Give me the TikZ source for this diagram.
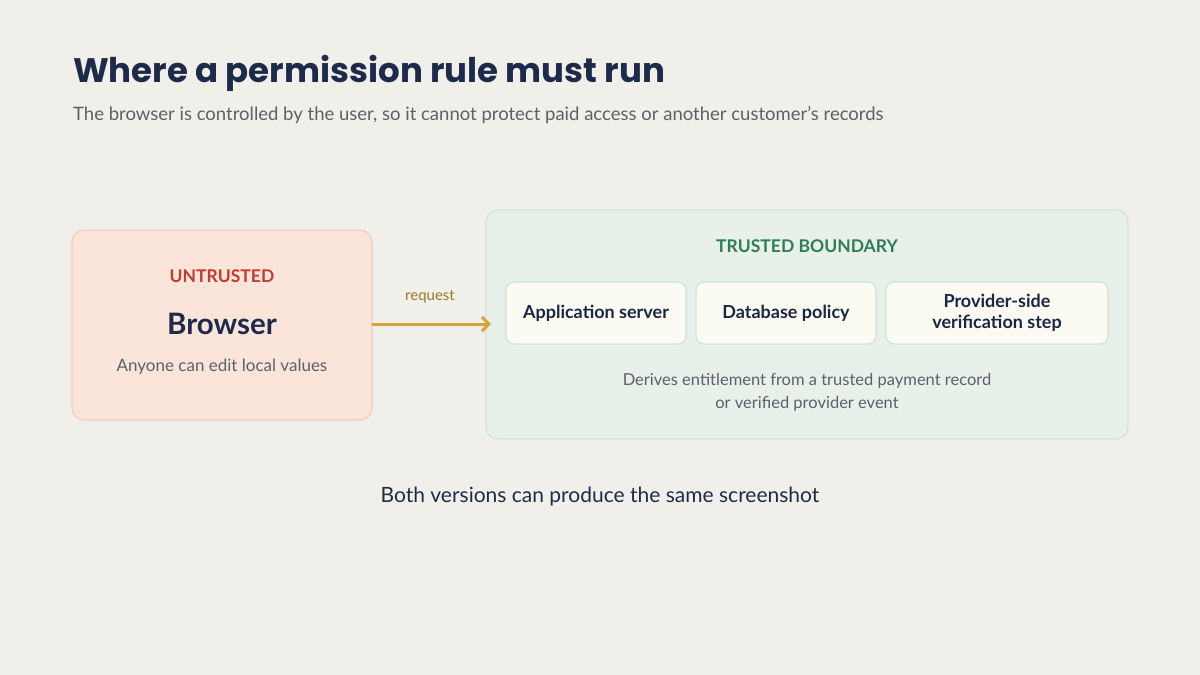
\documentclass[tikz,border=0pt]{standalone}
\usepackage{fontspec}
\setmainfont{Lato}
\newfontfamily\titlefont{Poppins}
\usetikzlibrary{arrows.meta}
\definecolor{bg}{HTML}{F1EFE9}
\definecolor{navy}{HTML}{1E2A4A}
\definecolor{greytxt}{HTML}{5C6068}
\definecolor{redfill}{HTML}{FBE4DA}
\definecolor{redline}{HTML}{F3CDBE}
\definecolor{redtxt}{HTML}{C23B30}
\definecolor{gold}{HTML}{D4A236}
\definecolor{goldtxt}{HTML}{9A7A2A}
\definecolor{greenfill}{HTML}{E8F0EA}
\definecolor{greenline}{HTML}{CFE3D6}
\definecolor{greentxt}{HTML}{2F7D52}
\definecolor{cardfill}{HTML}{FBFAF3}
\begin{document}
\begin{tikzpicture}[x=1pt,y=-1pt,
  card/.style={draw=greenline,fill=cardfill,rounded corners=8pt,line width=1.2pt},
  cardtxt/.style={font=\bfseries\fontsize{18}{21}\selectfont,text=navy!90!black,align=center},
  small/.style={font=\fontsize{16.5}{23}\selectfont,text=greytxt,align=center}]
\useasboundingbox[fill=bg] (0,0) rectangle (1200,675);
\node[anchor=base west,inner sep=0pt,font=\titlefont\bfseries\fontsize{34}{40}\selectfont,text=navy] (title) at (73,82) {Where a permission rule must run};
\node[anchor=base west,inner sep=0pt,font=\fontsize{18.5}{20}\selectfont,text=greytxt] (sub) at (73,120) {The browser is controlled by the user, so it cannot protect paid access or another customer’s records};
% browser
\draw[draw=redline,fill=redfill,rounded corners=12pt,line width=1.2pt] (72,230) rectangle (372,420);
\node[font=\bfseries\fontsize{17.5}{18}\selectfont,text=redtxt] (untr) at (222,276) {UNTRUSTED};
\node[font=\bfseries\fontsize{29.5}{30}\selectfont,text=navy] (browser) at (222,324) {Browser};
\node[small,font=\fontsize{17}{18}\selectfont] (anyone) at (222,367) {Anyone can edit local values};
% trusted
\draw[draw=greenline,fill=greenfill,rounded corners=12pt,line width=1.2pt] (486,210) rectangle (1128,439);
\node[font=\bfseries\fontsize{17.5}{18}\selectfont,text=greentxt] (tb) at (807,246) {TRUSTED BOUNDARY};
\node[card,minimum width=180pt,minimum height=62pt] (app) at (596,313) {};
\node[cardtxt] at (app) {Application server};
\node[card,minimum width=180pt,minimum height=62pt] (db) at (786,313) {};
\node[cardtxt] at (db) {Database policy};
\node[card,minimum width=222pt,minimum height=62pt] (prov) at (997,313) {};
\node[cardtxt] at (prov) {Provider-side\\verification step};
\node[small] (der) at (807,392) {Derives entitlement from a trusted payment record\\or verified provider event};
% arrow
\coordinate (a1) at (372,324);
\coordinate (a2) at (491,324);
\draw[gold,line width=3pt,-{Straight Barb[length=7pt,width=14pt]}] (a1) -- (a2);
\node[font=\fontsize{15}{16}\selectfont,text=goldtxt] (req) at (430,297) {request};
\node[font=\fontsize{21}{22}\selectfont,text=navy] (foot) at (600,497) {Both versions can produce the same screenshot};
\end{tikzpicture}
\end{document}
